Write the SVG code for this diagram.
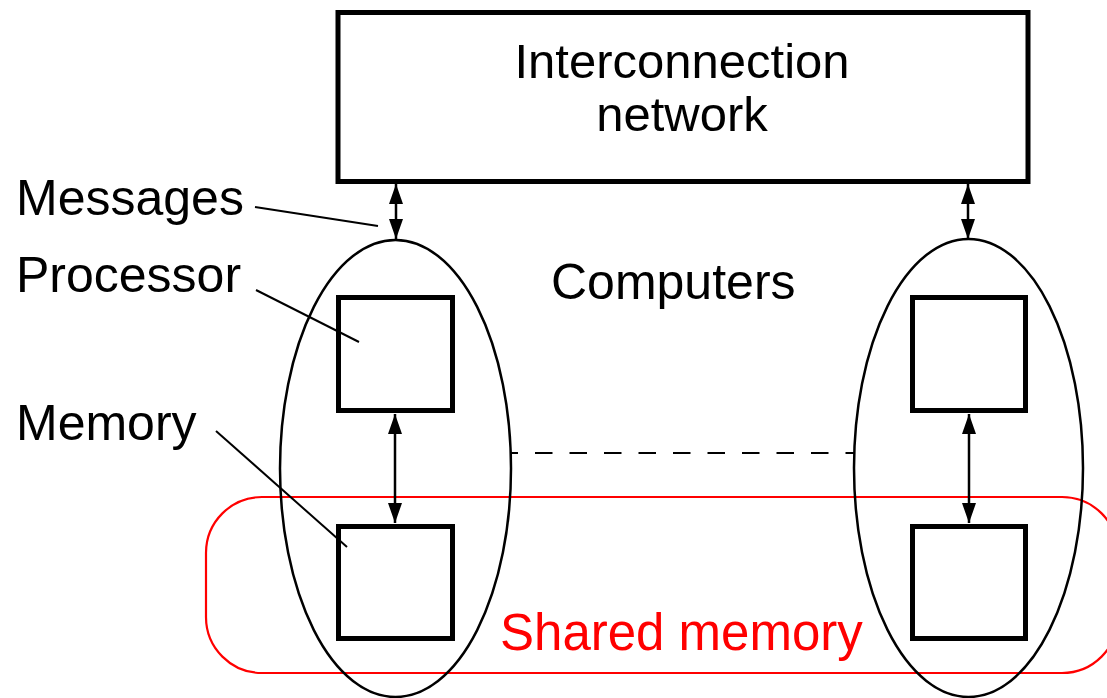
<svg xmlns="http://www.w3.org/2000/svg" width="1107" height="698" viewBox="0 0 1107 698">
<defs>
<style>
text{font-family:"Liberation Sans",Arial,sans-serif;font-size:50px;fill:#000}
.box{fill:none;stroke:#000;stroke-width:5}
.ell{fill:none;stroke:#000;stroke-width:2.5}
.lead{stroke:#000;stroke-width:2;fill:none}
.arr{stroke:#000;stroke-width:2.5;fill:none;marker-start:url(#ah);marker-end:url(#ah)}
</style>
<marker id="ah" markerUnits="userSpaceOnUse" markerWidth="20" markerHeight="14" refX="20" refY="7" orient="auto-start-reverse">
<path d="M0,0 L20,7 L0,14 z" fill="#000"/>
</marker>
</defs>
<rect width="1107" height="698" fill="#fff"/>
<g id="shared-memory">
<rect x="206" y="497" width="912" height="176" rx="56" ry="56" fill="none" stroke="#f00" stroke-width="2.2"/>
<text x="500" y="650" style="fill:#f00;font-size:51px">Shared memory</text>
</g>
<g id="network">
<rect class="box" x="338" y="12.5" width="690" height="169"/>
<text x="682" y="78" text-anchor="middle" style="font-size:49px">Interconnection</text>
<text x="682" y="131" text-anchor="middle" style="font-size:49px">network</text>
</g>
<g id="computer-left">
<ellipse class="ell" cx="395.5" cy="468.5" rx="115.5" ry="228.5"/>
<rect id="proc-left" class="box" x="338.5" y="297.5" width="114" height="113"/>
<rect id="mem-left" class="box" x="338.5" y="526.5" width="114" height="112"/>
</g>
<g id="computer-right">
<ellipse class="ell" cx="968.5" cy="468" rx="114.5" ry="229"/>
<rect id="proc-right" class="box" x="912.5" y="297.5" width="113" height="113"/>
<rect id="mem-right" class="box" x="912.5" y="526.5" width="113" height="112"/>
</g>
<g id="labels">
<text x="16" y="215">Messages</text>
<text x="16" y="292">Processor</text>
<text x="16" y="440">Memory</text>
<text x="551" y="299">Computers</text>
</g>
<g id="connectors">
<line class="arr" x1="396" y1="184" x2="396" y2="239"/>
<line class="arr" x1="968" y1="184" x2="968" y2="239"/>
<line class="arr" x1="395" y1="414" x2="395" y2="523"/>
<line class="arr" x1="969" y1="414" x2="969" y2="523"/>
<line x1="511" y1="453" x2="854" y2="453" stroke="#000" stroke-width="2" stroke-dasharray="17.5 17" stroke-dashoffset="10.5"/>
<line class="lead" x1="255" y1="207" x2="378" y2="226"/>
<line class="lead" x1="256" y1="290" x2="359" y2="342"/>
<line class="lead" x1="216" y1="431" x2="347" y2="547"/>
</g>
</svg>
